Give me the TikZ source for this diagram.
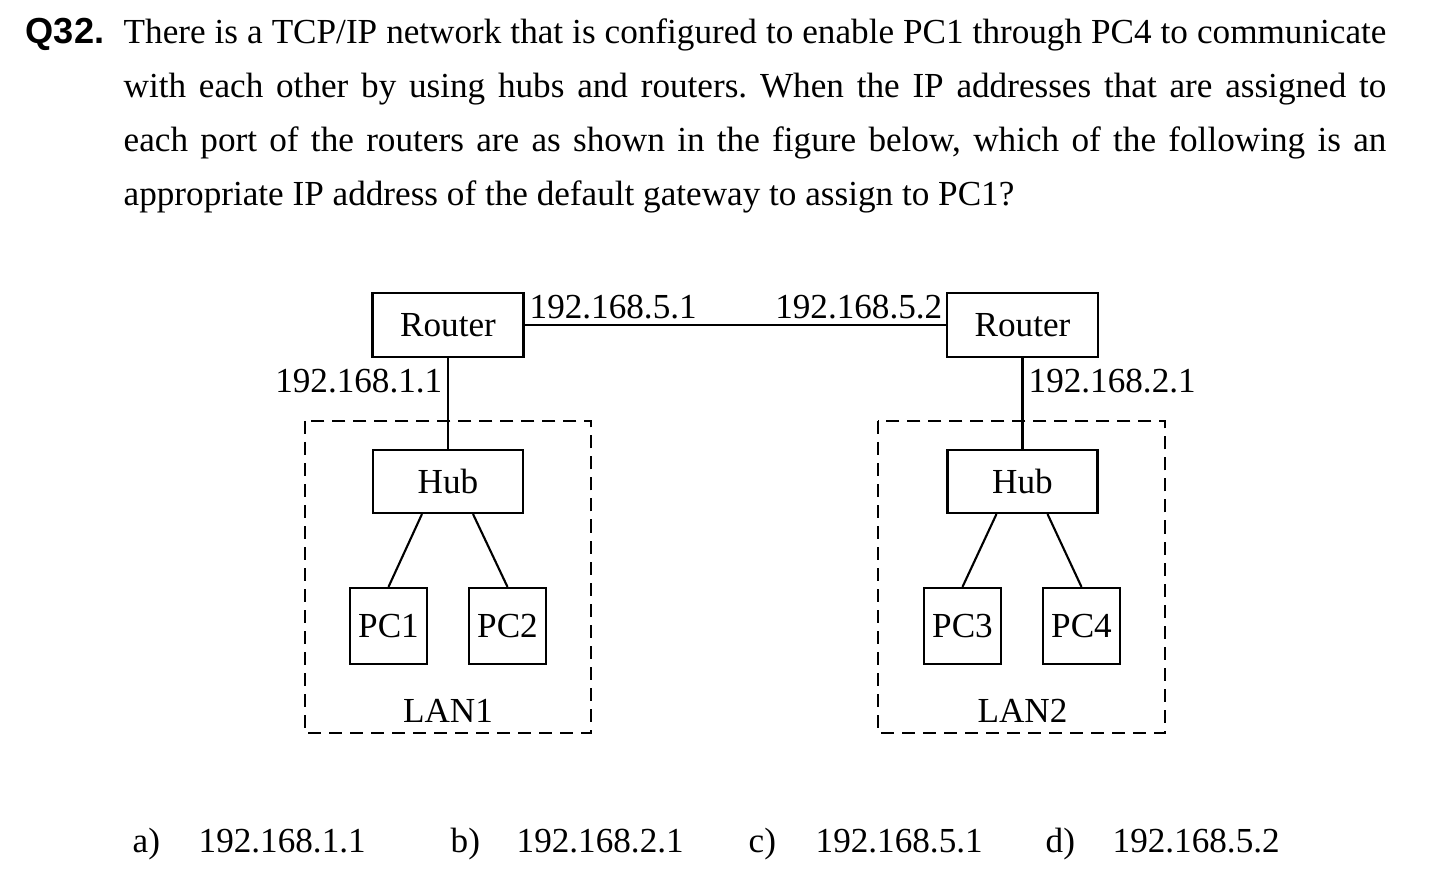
\documentclass[tikz,border=0pt]{standalone}
\usepackage{fontspec}
\setmainfont{Liberation Serif}
\newfontfamily\qfont{Liberation Sans}
\usepackage{tikz}
\usetikzlibrary{positioning}

\begin{document}
\frenchspacing
\begin{tikzpicture}[x=0.01cm, y=-0.01cm,
    every node/.style={font=\fontsize{10}{15.3}\selectfont},
    box/.style={draw, line width=0.6pt, inner sep=0pt},
    lan/.style={draw, line width=0.6pt, dash pattern=on 0.13cm off 0.08cm},
    wire/.style={line width=0.6pt}]
  \useasboundingbox (0,0) rectangle (1450,892);

  \node[anchor=base west, inner sep=0pt, font=\fontsize{10.3}{15.3}\selectfont\qfont\bfseries] (qnum) at (25,44) {Q32.};
  \node[anchor=base west, inner sep=0pt, text width=12.62cm, align=justify] (qtext) at (123,44)
    {There is a TCP/IP network that is configured to enable PC1 through PC4 to communicate\linebreak
     with each other by using hubs and routers. When the IP addresses that are assigned to\linebreak
     each port of the routers are as shown in the figure below, which of the following is an\linebreak
     appropriate IP address of the default gateway to assign to PC1?};

  \node[box, minimum width=1.51cm, minimum height=0.64cm] (router1) at (448,325) {Router};
  \node[box, minimum width=1.51cm, minimum height=0.64cm] (router2) at (1022.5,325) {Router};
  \node[box, minimum width=1.5cm, minimum height=0.63cm] (hub1) at (448,481.5) {Hub};
  \node[box, minimum width=1.5cm, minimum height=0.63cm] (hub2) at (1022.5,481.5) {Hub};
  \node[box, minimum width=0.77cm, minimum height=0.76cm] (pc1) at (388.5,626) {PC1};
  \node[box, minimum width=0.77cm, minimum height=0.76cm] (pc2) at (507.5,626) {PC2};
  \node[box, minimum width=0.77cm, minimum height=0.76cm] (pc3) at (962.5,626) {PC3};
  \node[box, minimum width=0.77cm, minimum height=0.76cm] (pc4) at (1081.5,626) {PC4};

  \node[anchor=base west, inner sep=0pt] (ip51) at (529,319) {192.168.5.1};
  \node[anchor=base east, inner sep=0pt] (ip52) at (943,319) {192.168.5.2};
  \node[anchor=base east, inner sep=0pt] (ip11) at (443,393) {192.168.1.1};
  \node[anchor=base west, inner sep=0pt] (ip21) at (1028,393) {192.168.2.1};

  \draw[lan] (305,421) rectangle (591,733);
  \draw[lan] (878,421) rectangle (1165,733);
  \node[anchor=base, inner sep=0pt] (lan1) at (448,723) {LAN1};
  \node[anchor=base, inner sep=0pt] (lan2) at (1022.5,723) {LAN2};

  \draw[wire] (router1.east) -- (router2.west);
  \draw[wire] (router1.south) -- (hub1.north);
  \draw[wire] (router2.south) -- (hub2.north);
  \draw[wire] ([xshift=-0.26cm]hub1.south) -- (pc1.north);
  \draw[wire] ([xshift=0.25cm]hub1.south) -- (pc2.north);
  \draw[wire] ([xshift=-0.26cm]hub2.south) -- (pc3.north);
  \draw[wire] ([xshift=0.25cm]hub2.south) -- (pc4.north);

  \node[anchor=base west, inner sep=0pt] (opta) at (132,853) {a)};
  \node[anchor=base west, inner sep=0pt] (ansa) at (198,853) {192.168.1.1};
  \node[anchor=base west, inner sep=0pt] (optb) at (450,853) {b)};
  \node[anchor=base west, inner sep=0pt] (ansb) at (516,853) {192.168.2.1};
  \node[anchor=base west, inner sep=0pt] (optc) at (748,853) {c)};
  \node[anchor=base west, inner sep=0pt] (ansc) at (815,853) {192.168.5.1};
  \node[anchor=base west, inner sep=0pt] (optd) at (1045,853) {d)};
  \node[anchor=base west, inner sep=0pt] (ansd) at (1112,853) {192.168.5.2};
\end{tikzpicture}
\end{document}
